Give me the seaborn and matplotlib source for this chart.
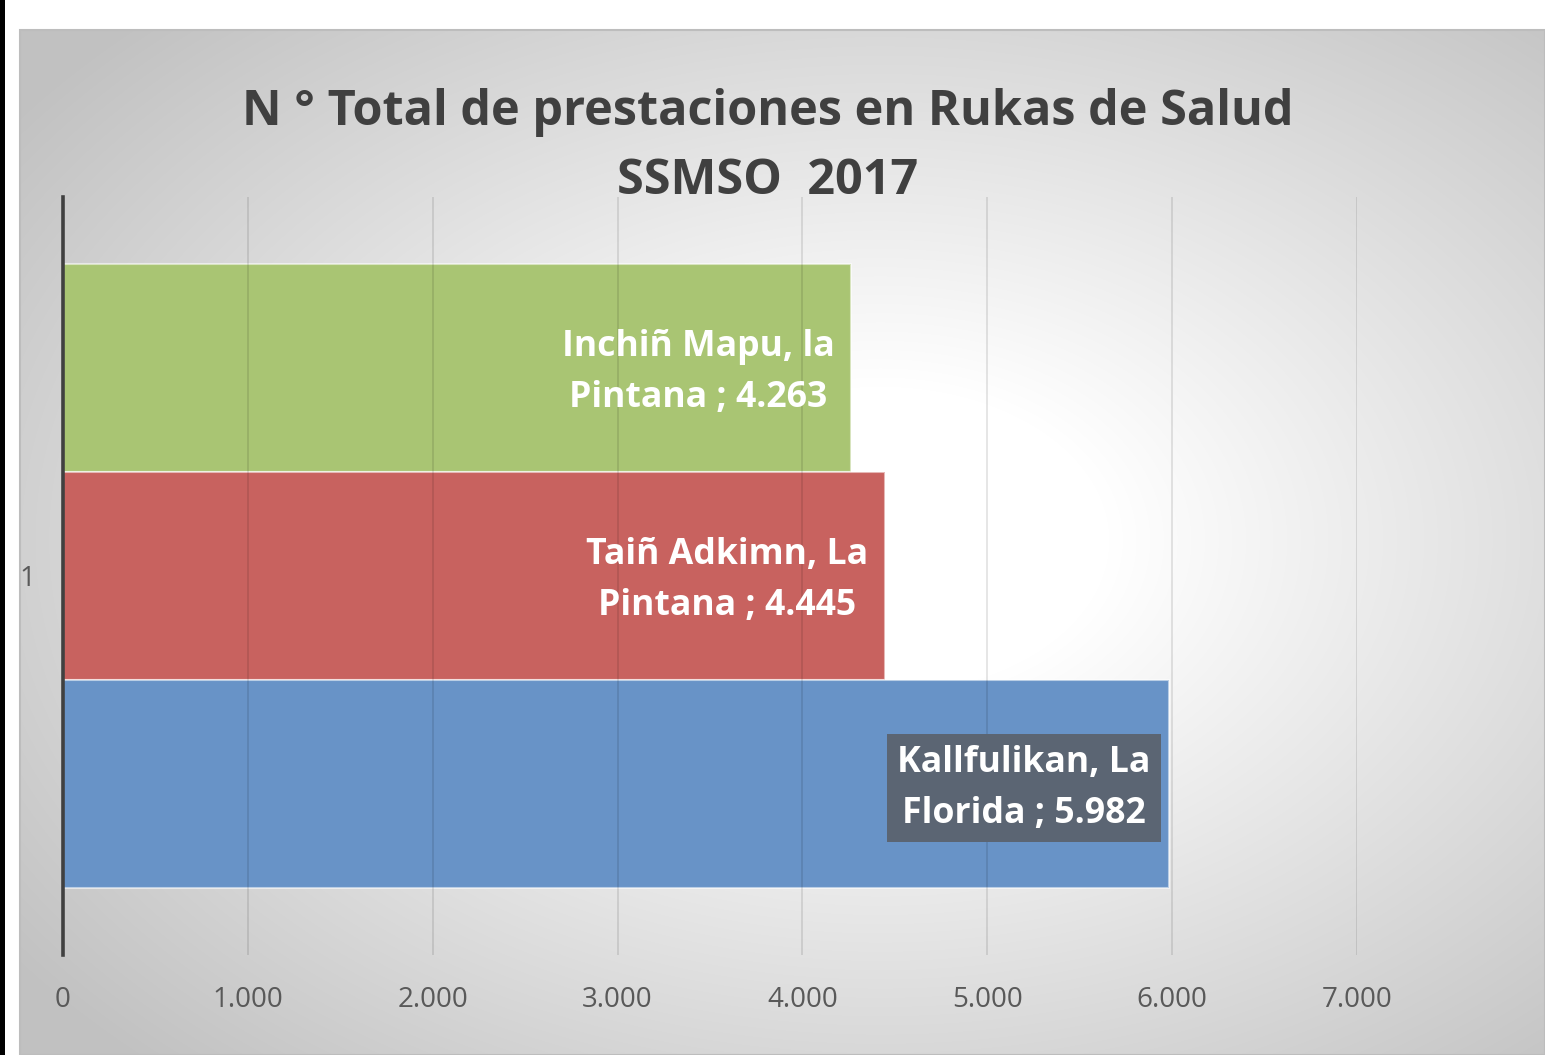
import numpy as np
import pandas as pd
import matplotlib
matplotlib.use("Agg")
import matplotlib.pyplot as plt
from matplotlib.patches import Rectangle
import seaborn as sns

# ---- data ----
categoria = ["1", "1", "1"]
nombres = ["Inchiñ Mapu, la\nPintana", "Taiñ Adkimn, La\nPintana", "Kallfulikan, La\nFlorida"]
valores = [4263, 4445, 5982]
colores = ["#A9C573", "#C8625F", "#6893C7"]
xticks = [0, 1000, 2000, 3000, 4000, 5000, 6000, 7000]
xtick_labels = ["0", "1.000", "2.000", "3.000", "4.000", "5.000", "6.000", "7.000"]
titulo = "N ° Total de prestaciones en Rukas de Salud\nSSMSO  2017"

df = pd.DataFrame({"cat": categoria, "nombre": nombres, "valor": valores})

sns.set_theme(style="white")
plt.rcParams["font.family"] = ["Open Sans", "DejaVu Sans"]

W, H = 1545, 1055
fig = plt.figure(figsize=(W / 100, H / 100), dpi=100)
fig.patch.set_facecolor("white")

# ---- background (gradient panel) ----
bg = fig.add_axes([0, 0, 1, 1], zorder=-10)
yy, xx = np.mgrid[0:H, 0:W]
cx, cy, hw, hh = 880, 540, 762, 512
d = np.sqrt(((xx - cx) / hw) ** 2 + ((yy - cy) / hh) ** 2)
g = np.clip(1.0 - 0.24 * np.clip((d - 0.3) / 1.1, 0, 1), 0, 1)
img = np.ones((H, W, 3))
mask = (xx >= 20) & (yy >= 30)
for c in range(3):
    ch = img[:, :, c]
    ch[mask] = g[mask]
img[:, :5, :] = 0.0
bg.imshow(img, extent=[0, W, H, 0], aspect="auto", interpolation="bilinear")
bg.add_patch(Rectangle((20, 30), W - 20, H - 30, fill=False, edgecolor="#BDBDBD", lw=1.5))
bg.set_xlim(0, W)
bg.set_ylim(H, 0)
bg.axis("off")

# ---- main axes ----
ax = fig.add_axes([63 / W, (H - 955) / H, (1357 - 63) / W, (955 - 197) / H])
ax.patch.set_alpha(0)
sns.barplot(data=df, x="valor", y="cat", hue="nombre", hue_order=nombres,
            palette=colores, orient="h", width=0.823, gap=0, saturation=1,
            legend=False, ax=ax, edgecolor=(1, 1, 1, 0.55), linewidth=1.5, errorbar=None)

ax.set_xlim(0, 7000)
ax.set_ylim(0.5, -0.5)
ax.set_xticks(xticks)
ax.set_xticklabels(xtick_labels)
ax.set_xlabel("")
ax.set_ylabel("")
ax.tick_params(axis="x", length=0, pad=22, labelsize=20, labelcolor="#595959")
ax.tick_params(axis="y", length=0, pad=20, labelsize=20, labelcolor="#595959")
ax.grid(axis="x", color="black", alpha=0.11, lw=1.3, zorder=2)
ax.grid(axis="y", visible=False)
ax.set_axisbelow(False)
for s in ["top", "right", "bottom"]:
    ax.spines[s].set_visible(False)
ax.spines["left"].set_color("#404040")
ax.spines["left"].set_linewidth(2.6)
ax.spines["left"].set_zorder(5)

# ---- bar labels ----
bars = [p for p in ax.patches if p.get_width() > 0]
bars.sort(key=lambda p: p.get_y())
for i, (p, name, v) in enumerate(zip(bars, nombres, valores)):
    val = f"{v:,}".replace(",", ".")
    txt = f"{name} ; {val}"
    kw = {}
    off = -12
    if i == 2:
        kw["bbox"] = dict(boxstyle="square,pad=0.3", facecolor="#5B6573", edgecolor="none")
        off = -13
    ax.annotate(txt, xy=(p.get_width(), p.get_y() + p.get_height() / 2),
                xytext=(off, -3), textcoords="offset points",
                ha="right", va="center", multialignment="center",
                color="white", fontsize=25.7, fontweight="bold", linespacing=1.56,
                zorder=6, **kw)

# ---- title ----
fig.text(768 / W, (H - 147) / H, titulo, ha="center", va="center",
         fontsize=35, fontweight="bold", color="#404040", linespacing=1.55)

fig.savefig("out.png", dpi=100)
